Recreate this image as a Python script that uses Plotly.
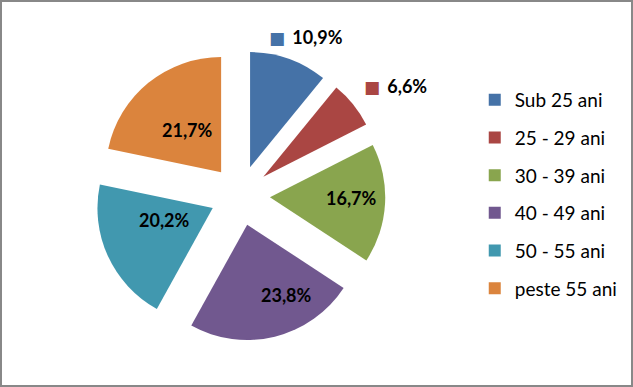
import math
import plotly.graph_objects as go

categories = ["Sub 25 ani", "25 - 29 ani", "30 - 39 ani", "40 - 49 ani", "50 - 55 ani", "peste 55 ani"]
values = [10.9, 6.6, 16.7, 23.8, 20.2, 21.7]
colors = ["#4572A7", "#AA4643", "#89A54E", "#71588F", "#4198AF", "#DB843D"]

# label placement style (relative to each pulled slice): radius fraction, angle offset (deg), legend-key flag
label_r = [1.23, 1.39, 0.707, 0.70, 0.43, 0.47]
label_dtheta = [3.6, 4.5, -2.6, -15.4, 10.2, 0.2]
label_key = [True, True, False, False, False, False]

W, H = 633, 387
cx, cy, R, pull = 240, 195.6, 115.3, 0.26
half = R * (1 + pull)
FONT = "Lato"

fig = go.Figure()
fig.add_trace(go.Pie(
    labels=categories, values=values, sort=False, direction="clockwise", rotation=0,
    marker=dict(colors=colors, line=dict(width=0)),
    pull=[pull] * len(values), textinfo="none",
    showlegend=False, hoverinfo="skip", automargin=False,
    domain=dict(x=[(cx - half) / W, (cx + half) / W],
                y=[(H - cy - half) / H, (H - cy + half) / H]),
))

# data labels placed on each slice's bisector
total = sum(values)
cum = 0.0
annotations = []
for v, c, r, dt, key in zip(values, colors, label_r, label_dtheta, label_key):
    mid = (cum + v / 2) / total * 2 * math.pi
    cum += v
    pcx = cx + pull * R * math.sin(mid)
    pcy = cy - pull * R * math.cos(mid)
    a = mid + math.radians(dt)
    px = pcx + r * R * math.sin(a)
    py = pcy - r * R * math.cos(a)
    s = f"<b>{v:.1f}".replace(".", ",") + "%</b>"
    if key:
        s = (f"<span style='color:{c};font-family:DejaVu Sans;font-size:17px'>■</span>"
             f"<span style='font-size:14px'>\u00a0\u00a0</span>" + s)
    annotations.append(dict(x=px / W, y=1 - py / H, xref="paper", yref="paper",
                            text=s, showarrow=False, xanchor="center", yanchor="middle",
                            font=dict(family=FONT, size=18, color="black")))

for name, c in zip(categories, colors):
    fig.add_trace(go.Scatter(x=[None], y=[None], mode="markers", name=name,
                             legendgroup=name,
                             marker=dict(symbol="square", size=11, color=c)))

fig.update_layout(
    width=W, height=H, margin=dict(l=0, r=0, t=0, b=0, autoexpand=False),
    paper_bgcolor="white", plot_bgcolor="white",
    xaxis=dict(visible=False), yaxis=dict(visible=False),
    legend=dict(x=0.750, y=0.791, xanchor="left", yanchor="top",
                font=dict(family=FONT, size=19, color="black"),
                tracegroupgap=10, itemsizing="constant", bgcolor="rgba(0,0,0,0)"),
    annotations=annotations,
    shapes=[dict(type="rect", xref="paper", yref="paper", x0=0, y0=0, x1=1, y1=1,
                 line=dict(color="#888888", width=4))],
)

fig.write_html("out.html", config={"displayModeBar": False},
               post_script="document.body.style.margin='0';document.body.style.overflow='hidden';")
